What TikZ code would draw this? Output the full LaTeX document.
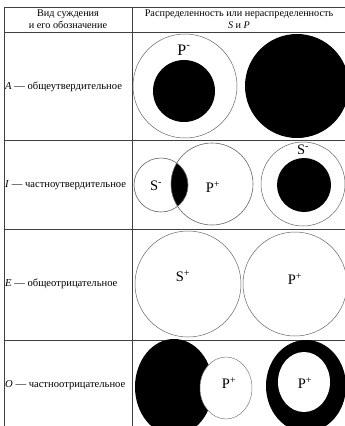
\documentclass[tikz,border=0pt]{standalone}
\usepackage{fontspec}
\setmainfont{Liberation Serif}
\begin{document}
\begin{tikzpicture}[x=1pt,y=-1pt,
  grid/.style={draw=black!75, line width=0.9pt},
  ring/.style={draw=black!60, line width=0.5pt},
  htxt/.style={font=\fontsize{10.2}{11}\selectfont, inner sep=0pt},
  txt/.style={font=\fontsize{10.6}{11}\selectfont, inner sep=0pt},
  big/.style={font=\fontsize{16}{17}\selectfont, inner sep=0pt},
  mid/.style={font=\fontsize{14.5}{15}\selectfont, inner sep=0pt}]
\useasboundingbox (0,0) rectangle (345,426);
\clip (0,0) rectangle (345,426);
\fill[white] (0,0) rectangle (345,426);
% table grid
\draw[grid] (4,7) -- (346,7);
\draw[grid] (4,32) -- (346,32);
\draw[grid] (4,140) -- (346,140);
\draw[grid] (4,229) -- (346,229);
\draw[grid] (4,340) -- (346,340);
\draw[grid] (4,7) -- (4,427);
\draw[grid] (132,7) -- (132,427);
% header
\node[htxt] (h1a) at (68,14) {Вид суждения};
\node[htxt] (h1b) at (68,25) {и его обозначение};
\node[htxt] (h2a) at (239,14) {Распределенность или нераспределенность};
\node[htxt] (h2b) at (239,25) {\textit{S} и \textit{P}};
% row labels
\node[txt, anchor=west] (ra) at (5,87) {\textit{A} — общеутвердительное};
\node[txt, anchor=west] (ri) at (5,185) {\textit{I} — частноутвердительное};
\node[txt, anchor=west] (re) at (5,284) {\textit{E} — общеотрицательное};
\node[txt, anchor=west] (ro) at (5,385) {\textit{O} — частноотрицательное};
% row A
\draw[ring] (185,86) circle (52);
\fill (184,91) circle (31);
\node[big] (pa) at (184,50) {P\textsuperscript{-}};
\fill (297,86) circle (52);
% row I
\begin{scope}
  \clip (161,185) circle (27);
  \fill (212,184) circle (41);
\end{scope}
\draw[ring, line width=0.6pt] (161,185) circle (27);
\draw[ring, line width=0.6pt] (212,184) circle (41);
\node[mid] (si) at (156,186) {S\textsuperscript{-}};
\node[mid] (pi) at (213,187) {P\textsuperscript{+}};
\draw[ring] (303,184) circle (42);
\fill (304,185) circle (27);
\node[mid] (si2) at (303,150) {S\textsuperscript{-}};
% row E
\draw[ring] (188,284) circle (53);
\node[mid] (se) at (183,276) {S\textsuperscript{+}};
\draw[ring] (295,284) circle (52);
\node[mid] (pe) at (295,279) {P\textsuperscript{+}};
% row O
\fill (174,387) ellipse (39 and 48);
\filldraw[fill=white, draw=black!50, line width=0.5pt] (226,388) ellipse (26 and 31);
\node[mid] (po) at (229,383) {P\textsuperscript{+}};
\fill (306,386) ellipse (40 and 46);
\fill[white] (304,382) ellipse (26 and 30);
\node[mid] (po2) at (305,383) {P\textsuperscript{+}};
\end{tikzpicture}
\end{document}
